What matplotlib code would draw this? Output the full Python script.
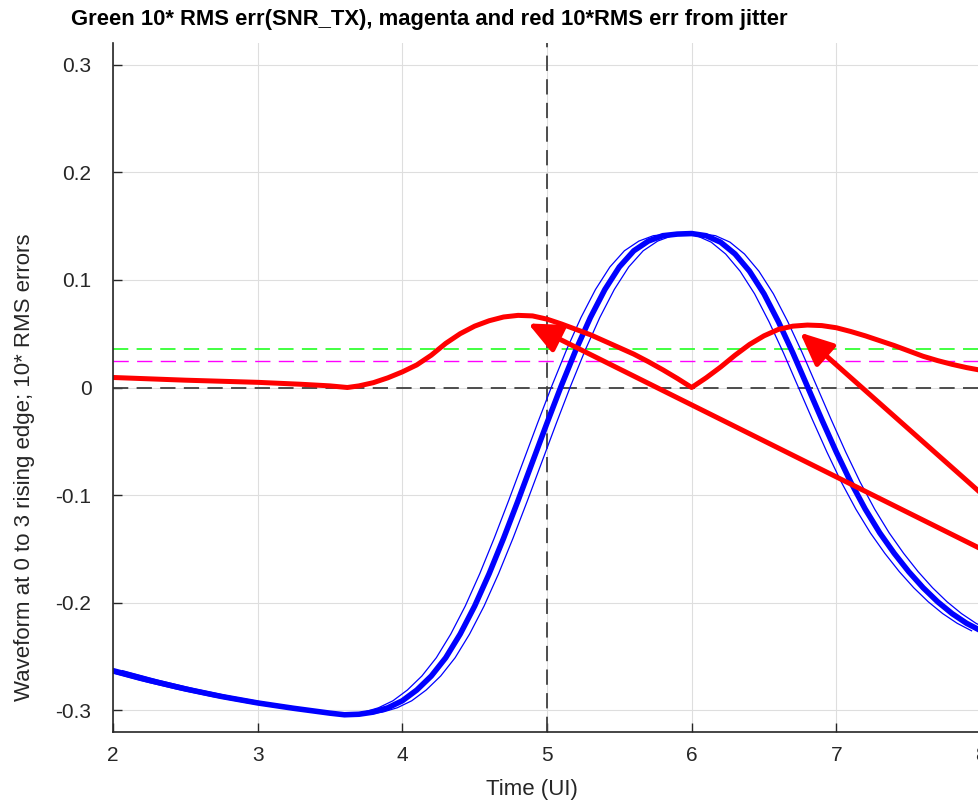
import matplotlib
matplotlib.use("Agg")
import matplotlib.pyplot as plt

# main waveform
wave_t = [2.0, 2.25, 2.5, 2.75, 3.0, 3.25, 3.5, 3.6, 3.7, 3.8, 3.9, 4.0, 4.1, 4.2, 4.3,
          4.4, 4.5, 4.6, 4.7, 4.8, 4.9, 5.0, 5.1, 5.2, 5.3, 5.4, 5.5, 5.6, 5.7, 5.8, 5.9,
          6.0, 6.1, 6.2, 6.3, 6.4, 6.5, 6.6, 6.7, 6.8, 6.9, 7.0, 7.1, 7.2, 7.3, 7.4, 7.5,
          7.6, 7.7, 7.8, 7.9, 8.0]
wave_v = [-0.263, -0.272, -0.280, -0.287, -0.293, -0.298, -0.3025, -0.304, -0.3035,
          -0.3015, -0.2975, -0.291, -0.281, -0.268, -0.251, -0.229, -0.203, -0.173, -0.140,
          -0.105, -0.069, -0.033, 0.002, 0.035, 0.065, 0.091, 0.112, 0.127, 0.136, 0.141,
          0.1425, 0.143, 0.141, 0.135, 0.124, 0.108, 0.087, 0.061, 0.032, 0.001, -0.030,
          -0.060, -0.088, -0.113, -0.135, -0.154, -0.171, -0.186, -0.199, -0.210, -0.219,
          -0.226]
jitter_shift = 0.065  # UI, thin jittered copies

# 10* RMS error from jitter
err_t = [2.0, 2.5, 3.0, 3.3, 3.5, 3.62, 3.7, 3.8, 3.9, 4.0, 4.1, 4.2, 4.3, 4.4, 4.5,
         4.6, 4.7, 4.8, 4.9, 5.0, 5.1, 5.2, 5.3, 5.4, 5.5, 5.6, 5.7, 5.8, 5.9, 6.0,
         6.1, 6.2, 6.3, 6.4, 6.5, 6.6, 6.7, 6.8, 6.9, 7.0, 7.1, 7.2, 7.3, 7.4, 7.5,
         7.6, 7.7, 7.8, 7.9, 8.0]
err_v = [0.0093, 0.0068, 0.0048, 0.0030, 0.0015, 0.0, 0.0015, 0.0045, 0.009, 0.0145,
         0.021, 0.030, 0.041, 0.050, 0.057, 0.062, 0.0655, 0.067, 0.0665, 0.0635,
         0.059, 0.054, 0.049, 0.043, 0.037, 0.031, 0.024, 0.0165, 0.0085, 0.0,
         0.009, 0.019, 0.030, 0.040, 0.048, 0.054, 0.057, 0.058, 0.0575, 0.0555,
         0.052, 0.048, 0.0435, 0.039, 0.034, 0.029, 0.025, 0.0215, 0.0185, 0.016]

snr_level = 0.036      # green
jitter_level = 0.0242  # magenta
sample_t = 5.0

# arrows: (tip x, tip y, tail x, tail y)
arrows = [(4.869, 0.0595, 8.3, -0.170),
          (6.749, 0.051, 8.3, -0.134)]

plt.rcParams['font.family'] = ['Liberation Sans', 'DejaVu Sans']
plt.rcParams['lines.scale_dashes'] = False

fig = plt.figure(figsize=(9.79, 8.02), dpi=100)
ax = fig.add_axes([113 / 979, 70 / 802, 868 / 979, 689 / 802])

ax.grid(True, color='#dedede', linewidth=0.8)
ax.set_axisbelow(True)

dash = (11, 6)
ax.axhline(0, color='#404040', lw=1.3, dashes=dash)
ax.axvline(sample_t, color='#404040', lw=1.3, dashes=dash)
ax.axhline(snr_level, color='#33ff33', lw=1.3, dashes=dash)
ax.axhline(jitter_level, color='#ff00ff', lw=1.0, dashes=dash)

ax.plot([t - jitter_shift for t in wave_t], wave_v, color='#0000ff', lw=0.9)
ax.plot([t + jitter_shift for t in wave_t], wave_v, color='#0000ff', lw=0.9)
ax.plot(wave_t, wave_v, color='#0000ff', lw=4.0, solid_joinstyle='round')

ax.plot(err_t, err_v, color='#ff0000', lw=3.6, solid_joinstyle='round')

for tx, ty, sx, sy in arrows:
    ax.annotate('', xy=(tx, ty), xytext=(sx, sy), annotation_clip=False,
                arrowprops=dict(arrowstyle='-|>,head_length=1.0,head_width=0.45',
                                mutation_scale=20, color='#ff0000', lw=3.6,
                                shrinkA=0, shrinkB=0))

ax.set_xlim(2, 8)
ax.set_ylim(-0.32, 0.32)
ax.set_xticks([2, 3, 4, 5, 6, 7, 8])
ax.set_yticks([-0.3, -0.2, -0.1, 0, 0.1, 0.2, 0.3])
ax.set_yticklabels(['-0.3', '-0.2', '-0.1', '0', '0.1', '0.2', '0.3'])

for side in ['top', 'right']:
    ax.spines[side].set_visible(False)
for side in ['left', 'bottom']:
    ax.spines[side].set_color('#262626')
    ax.spines[side].set_linewidth(1.2)
ax.tick_params(direction='in', length=6.5, width=1.0, color='#262626',
               labelsize=15, labelcolor='#262626')
ax.tick_params(axis='y', pad=15.5)
ax.tick_params(axis='x', pad=10)

fig.text(71 / 979, 1 - 19 / 802, 'Green 10* RMS err(SNR_TX), magenta and red 10*RMS err from jitter',
         fontsize=15.8, fontweight='bold', ha='left', va='center')
fig.text(532 / 979, 1 - 790 / 802, 'Time (UI)', fontsize=16, color='#262626',
         ha='center', va='center')
fig.text(25 / 979, 1 - 467 / 802, 'Waveform at 0 to 3 rising edge; 10* RMS errors',
         fontsize=16, color='#262626', rotation=90, ha='center', va='center')

fig.savefig('out.png', dpi=100)
